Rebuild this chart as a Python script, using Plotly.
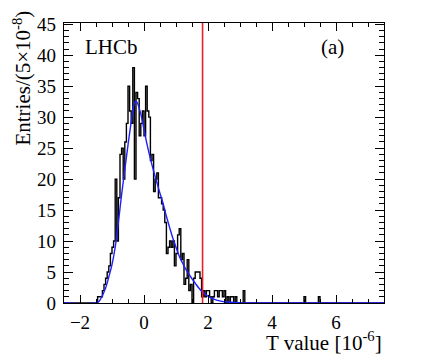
import numpy as np
import plotly.graph_objects as go

# histogram: bins of width 0.05 (x 10^-6), range -2.5 .. 7.5
bin_width = 0.05
x_min, x_max = -2.5, 7.5

# counts for the populated region, bins starting at -1.50
core_start = -1.50
core_counts = [
    0, 1, 1, 1, 2, 3, 4, 5, 6, 8,
    9, 10, 20, 10, 17, 24, 25, 20, 26, 29,
    35, 31, 29, 38, 20, 34, 33, 27, 29, 31,
    27, 35, 31, 30, 23, 24, 18, 20, 21, 17,
    17, 16, 15, 13, 8, 9, 10, 9, 10, 6,
    8, 11, 12, 7, 8, 3, 4, 7, 2, 3,
    0, 4, 5, 5, 5, 4, 1, 2, 1, 2,
    2, 1, 0, 1, 2, 2, 1, 2, 2, 1,
    2, 0, 1, 0, 1, 1, 0, 1, 0, 0,
    0, 0, 2, 0,
]
# isolated entries far in the tail
outlier_edges = [5.00, 5.45]
outlier_counts = [1, 1]

# fitted curve
fit_x = [-2.5, -1.5, -1.4, -1.3, -1.2, -1.1, -1.0, -0.9, -0.8, -0.7, -0.6,
         -0.5, -0.4, -0.3, -0.25, -0.2, -0.1, 0.0, 0.1, 0.2, 0.3, 0.4, 0.5,
         0.6, 0.7, 0.8, 0.9, 1.0, 1.1, 1.2, 1.3, 1.4, 1.5, 1.6, 1.7, 1.8,
         1.9, 2.0, 2.2, 2.4, 2.6, 2.8, 3.0, 3.3, 7.5]
fit_y = [0, 0, 0.3, 1.2, 2.4, 4.2, 6.2, 9.0, 13.0, 17.5, 21.5,
         25.5, 29.2, 32.3, 32.6, 32.2, 30.5, 28.0, 25.5, 23.3, 21.3, 19.5, 17.7,
         16.0, 14.0, 12.2, 10.5, 9.0, 7.6, 6.5, 5.5, 4.7, 3.9, 3.2, 2.5, 1.9,
         1.5, 1.1, 0.6, 0.3, 0.15, 0.07, 0.03, 0, 0]

cut_value = 1.83

# build the full binned table
n_bins = int(round((x_max - x_min) / bin_width))
counts = np.zeros(n_bins)
i0 = int(round((core_start - x_min) / bin_width))
counts[i0:i0 + len(core_counts)] = core_counts
for e, c in zip(outlier_edges, outlier_counts):
    counts[int(round((e - x_min) / bin_width))] = c
edges = x_min + bin_width * np.arange(n_bins + 1)
step_y = np.append(counts, counts[-1])

serif = "Liberation Serif"

fig = go.Figure()
fig.add_trace(go.Scatter(
    x=edges, y=step_y, mode="lines", line_shape="hv",
    line={"color": "black", "width": 1.4}, showlegend=False,
))
fig.add_trace(go.Scatter(
    x=fit_x, y=fit_y, mode="lines", line_shape="spline",
    line={"color": "#1f1fff", "width": 1.4}, showlegend=False,
))
fig.add_trace(go.Scatter(
    x=[cut_value, cut_value], y=[0, 45.2], mode="lines",
    line={"color": "#e8202a", "width": 1.6}, showlegend=False,
))

axis_common = dict(
    showline=True, linecolor="black", linewidth=1.2, mirror="allticks",
    ticks="inside", tickcolor="black", tickwidth=1, showgrid=False, zeroline=False,
    automargin=False,
    tickfont={"family": serif, "size": 19, "color": "black"},
)
fig.update_xaxes(
    range=[x_min, x_max], dtick=2, tick0=0, ticklen=8, ticklabelstandoff=2,
    minor={"dtick": 0.5, "tick0": 0, "ticklen": 4, "ticks": "inside", "tickcolor": "black"},
    **axis_common,
)
fig.update_yaxes(
    range=[0, 45.2], dtick=5, ticklen=9, ticklabelstandoff=3,
    minor={"dtick": 1, "ticklen": 4.5, "ticks": "inside", "tickcolor": "black"},
    **axis_common,
)

fig.add_annotation(text="Entries/(5×10<sup>-8</sup>)", textangle=-90,
                   xref="paper", yref="paper", x=-0.131, y=1.05,
                   xanchor="center", yanchor="top", showarrow=False,
                   font={"family": serif, "size": 21, "color": "black"})
fig.add_annotation(text="T value [10<sup>-6</sup>]",
                   xref="paper", yref="paper", x=1.0, y=-0.136,
                   xanchor="right", yanchor="middle", showarrow=False,
                   font={"family": serif, "size": 21, "color": "black"})
fig.add_annotation(text="LHCb", xref="paper", yref="paper", x=0.06, y=0.914,
                   xanchor="left", yanchor="middle", showarrow=False,
                   font={"family": serif, "size": 21, "color": "black"})
fig.add_annotation(text="(a)", xref="paper", yref="paper", x=0.84, y=0.914,
                   xanchor="center", yanchor="middle", showarrow=False,
                   font={"family": serif, "size": 21, "color": "black"})

# the page body adds an 8 px offset, so the figure is sized to compensate
fig.update_layout(
    width=419, height=349,
    margin={"l": 56, "r": 43, "t": 15, "b": 54},
    paper_bgcolor="white", plot_bgcolor="white",
)

fig.write_html("out.html")
